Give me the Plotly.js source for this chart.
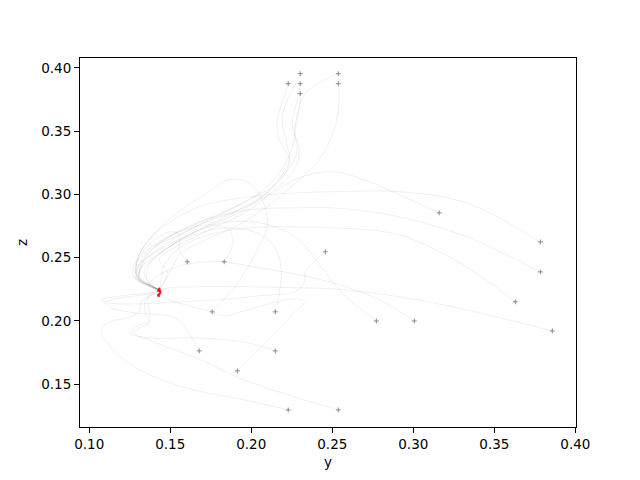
<!DOCTYPE html>
<html>
<head>
<meta charset="utf-8">
<script src="https://cdn.plot.ly/plotly-3.0.1.min.js"></script>
<style>html,body{margin:0;padding:0;background:#fff}#plot{width:640px;height:480px}</style>
</head>
<body>
<div id="plot"></div>
<script>
// Trajectories: horizontal coordinate "y", vertical coordinate "z"
const t01_y = [0.2302,0.2272,0.2222,0.2191,0.2222,0.2235,0.2142,0.1957,0.1679,0.1432,0.1309,0.1284,0.1340,0.1432];
const t01_z = [0.3955,0.3868,0.3749,0.3591,0.3393,0.3274,0.3076,0.2878,0.2720,0.2562,0.2443,0.2340,0.2285,0.2245];
const t02_y = [0.2537,0.2420,0.2327,0.2284,0.2265,0.2222,0.2111,0.1926,0.1648,0.1401,0.1290,0.1272,0.1358,0.1432];
const t02_z = [0.3955,0.3884,0.3789,0.3630,0.3432,0.3274,0.3076,0.2918,0.2759,0.2601,0.2467,0.2356,0.2285,0.2245];
const t03_y = [0.2228,0.2198,0.2160,0.2173,0.2235,0.2204,0.2080,0.1864,0.1617,0.1420,0.1321,0.1309,0.1383,0.1432];
const t03_z = [0.3876,0.3749,0.3591,0.3432,0.3274,0.3155,0.2997,0.2838,0.2680,0.2522,0.2419,0.2324,0.2277,0.2237];
const t04_y = [0.2302,0.2284,0.2253,0.2296,0.2265,0.2142,0.1988,0.1772,0.1556,0.1432,0.1481,0.1463,0.1432];
const t04_z = [0.3876,0.3749,0.3551,0.3353,0.3195,0.3037,0.2878,0.2736,0.2601,0.2482,0.2387,0.2308,0.2245];
const t05_y = [0.2537,0.2543,0.2512,0.2420,0.2296,0.2111,0.1926,0.1679,0.1556,0.1506,0.1463,0.1432];
const t05_z = [0.3876,0.3749,0.3511,0.3274,0.3116,0.2918,0.2759,0.2617,0.2522,0.2403,0.2308,0.2237];
const t06_y = [0.2302,0.2296,0.2265,0.2284,0.2247,0.2142,0.1988,0.1802,0.1556,0.1370,0.1309,0.1296,0.1370,0.1432];
const t06_z = [0.3797,0.3670,0.3511,0.3353,0.3234,0.3076,0.2957,0.2838,0.2680,0.2562,0.2443,0.2340,0.2277,0.2245];
const r01_y = [0.3160,0.2914,0.2728,0.2512,0.2296,0.2111,0.1926,0.1679,0.1463,0.1340,0.1309,0.1383,0.1432];
const r01_z = [0.2854,0.2997,0.3100,0.3179,0.3131,0.2997,0.2878,0.2759,0.2601,0.2467,0.2340,0.2277,0.2245];
const r02_y = [0.3784,0.3327,0.2914,0.2500,0.2296,0.1988,0.1679,0.1432,0.1309,0.1296,0.1370,0.1432];
const r02_z = [0.2624,0.2933,0.3021,0.3021,0.3013,0.2981,0.2902,0.2720,0.2522,0.2364,0.2285,0.2245];
const r03_y = [0.3784,0.3327,0.2914,0.2500,0.2296,0.1988,0.1679,0.1463,0.1340,0.1309,0.1370,0.1432];
const r03_z = [0.2387,0.2665,0.2822,0.2894,0.2894,0.2878,0.2783,0.2641,0.2498,0.2364,0.2285,0.2245];
const r04_y = [0.3630,0.3327,0.2914,0.2500,0.2296,0.1988,0.1741,0.1556,0.1463,0.1444,0.1432];
const r04_z = [0.2150,0.2427,0.2680,0.2736,0.2743,0.2736,0.2680,0.2577,0.2443,0.2324,0.2245];
const r05_y = [0.3858,0.3327,0.2914,0.2500,0.2296,0.1988,0.1679,0.1494,0.1432];
const r05_z = [0.1920,0.2087,0.2190,0.2253,0.2261,0.2269,0.2269,0.2261,0.2237];
const m01_y = [0.2772,0.2574,0.2420,0.2296,0.2111,0.1864,0.1617,0.1432,0.1340,0.1370,0.1432];
const m01_z = [0.1999,0.2205,0.2443,0.2641,0.2759,0.2783,0.2680,0.2522,0.2403,0.2292,0.2245];
const m02_y = [0.3006,0.2790,0.2543,0.2296,0.2049,0.1802,0.1586,0.1432,0.1370,0.1432];
const m02_z = [0.1999,0.2166,0.2285,0.2364,0.2419,0.2467,0.2443,0.2364,0.2285,0.2237];
const m03_y = [0.2457,0.2389,0.2333,0.2327,0.2265,0.2049,0.1802,0.1556,0.1309,0.1123,0.1074,0.1198,0.1370,0.1432];
const m03_z = [0.2546,0.2467,0.2387,0.2300,0.2229,0.2198,0.2166,0.2150,0.2134,0.2142,0.2166,0.2198,0.2221,0.2237];
const l01_y = [0.1605,0.1556,0.1556,0.1494,0.1370,0.1296,0.1296,0.1370,0.1432];
const l01_z = [0.2467,0.2562,0.2680,0.2704,0.2601,0.2467,0.2348,0.2285,0.2245];
const l02_y = [0.1833,0.1883,0.1864,0.1741,0.1556,0.1401,0.1321,0.1309,0.1383,0.1432];
const l02_z = [0.2467,0.2601,0.2720,0.2759,0.2704,0.2577,0.2443,0.2324,0.2277,0.2245];
const l03_y = [0.1759,0.1907,0.2037,0.2099,0.2062,0.1975,0.1864,0.1710,0.1525,0.1370,0.1290,0.1296,0.1370,0.1432];
const l03_z = [0.2071,0.2285,0.2562,0.2759,0.2973,0.3100,0.3116,0.2997,0.2838,0.2641,0.2467,0.2340,0.2277,0.2245];
const l04_y = [0.2148,0.2173,0.2185,0.2148,0.2062,0.1864,0.1648,0.1463,0.1370,0.1358,0.1432];
const l04_z = [0.2071,0.2221,0.2403,0.2577,0.2680,0.2736,0.2680,0.2562,0.2443,0.2324,0.2245];
const l05_y = [0.1679,0.1630,0.1568,0.1494,0.1278,0.1136,0.1099,0.1198,0.1340,0.1420];
const l05_z = [0.1762,0.1873,0.1991,0.2039,0.2063,0.2103,0.2142,0.2182,0.2205,0.2229];
const l06_y = [0.2148,0.1988,0.1852,0.1648,0.1370,0.1278,0.1309,0.1370,0.1346,0.1346,0.1401];
const l06_z = [0.1762,0.1825,0.1849,0.1865,0.1865,0.1896,0.1944,0.1976,0.2071,0.2166,0.2221];
const l07_y = [0.1914,0.2123,0.2265,0.2327,0.2284,0.2062,0.1938,0.1833,0.1753,0.1617,0.1494,0.1432];
const l07_z = [0.1604,0.1873,0.2063,0.2150,0.2174,0.2119,0.2071,0.2039,0.2071,0.2119,0.2166,0.2221];
const b01_y = [0.2228,0.1957,0.1648,0.1401,0.1216,0.1111,0.1074,0.1123,0.1235,0.1309,0.1321,0.1401];
const b01_z = [0.1295,0.1374,0.1453,0.1556,0.1691,0.1825,0.1928,0.1991,0.2023,0.2071,0.2150,0.2221];
const b02_y = [0.2537,0.2265,0.1957,0.1648,0.1444,0.1340,0.1259,0.1296,0.1370,0.1370,0.1358,0.1420];
const b02_z = [0.1295,0.1398,0.1532,0.1714,0.1809,0.1865,0.1896,0.1960,0.1991,0.2087,0.2166,0.2229];

// Final positions (red)
const end_y = [0.1432,0.1426,0.1438,0.1432,0.1426,0.1438,0.1432,0.1436,0.1429];
const end_z = [0.2245,0.2237,0.2229,0.2213,0.2205,0.2221,0.2253,0.2237,0.2197];

const trajectories = [
  [t01_y,t01_z],[t02_y,t02_z],[t03_y,t03_z],[t04_y,t04_z],[t05_y,t05_z],[t06_y,t06_z],
  [r01_y,r01_z],[r02_y,r02_z],[r03_y,r03_z],[r04_y,r04_z],[r05_y,r05_z],
  [m01_y,m01_z],[m02_y,m02_z],[m03_y,m03_z],
  [l01_y,l01_z],[l02_y,l02_z],[l03_y,l03_z],[l04_y,l04_z],[l05_y,l05_z],[l06_y,l06_z],[l07_y,l07_z],
  [b01_y,b01_z],[b02_y,b02_z]
];

const traces = trajectories.map(([ys, zs]) => ({
  x: ys, y: zs, type: 'scatter', mode: 'lines',
  line: {color: 'rgba(0,0,0,0.07)', width: 0.9, shape: 'spline', smoothing: 1},
  hoverinfo: 'skip', showlegend: false
}));

traces.push({
  x: trajectories.map(t => t[0][0]), y: trajectories.map(t => t[1][0]),
  type: 'scatter', mode: 'markers', showlegend: false,
  marker: {symbol: 'cross-thin', size: 3.5, line: {color: '#8a8a8a', width: 1}}
});

traces.push({
  x: end_y, y: end_z, type: 'scatter', mode: 'markers', showlegend: false,
  marker: {symbol: 'circle', size: 2.5, color: 'rgba(255,0,0,0.8)'}
});

const axisCommon = {
  showgrid: false, zeroline: false, showline: true, mirror: true,
  linecolor: '#000', linewidth: 1, ticks: 'outside', ticklen: 5, tickwidth: 1,
  tickcolor: '#000', tickformat: '.2f', dtick: 0.05,
  tickfont: {family: 'DejaVu Sans', size: 13.5, color: '#000'}
};

const layout = {
  width: 640, height: 480,
  margin: {l: 80, r: 64, t: 58, b: 53},
  paper_bgcolor: '#fff', plot_bgcolor: '#fff',
  font: {family: 'DejaVu Sans', size: 13.5, color: '#000'},
  xaxis: Object.assign({}, axisCommon, {
    range: [0.0943, 0.4004], tick0: 0.1,
    title: {text: 'y', font: {family: 'DejaVu Sans', size: 13.5}, standoff: 6}
  }),
  yaxis: Object.assign({}, axisCommon, {
    range: [0.116, 0.4079], tick0: 0.1,
    title: {text: 'z', font: {family: 'DejaVu Sans', size: 13.5}, standoff: 10}
  })
};

Plotly.newPlot('plot', traces, layout, {staticPlot: true, displayModeBar: false});
</script>
</body>
</html>
